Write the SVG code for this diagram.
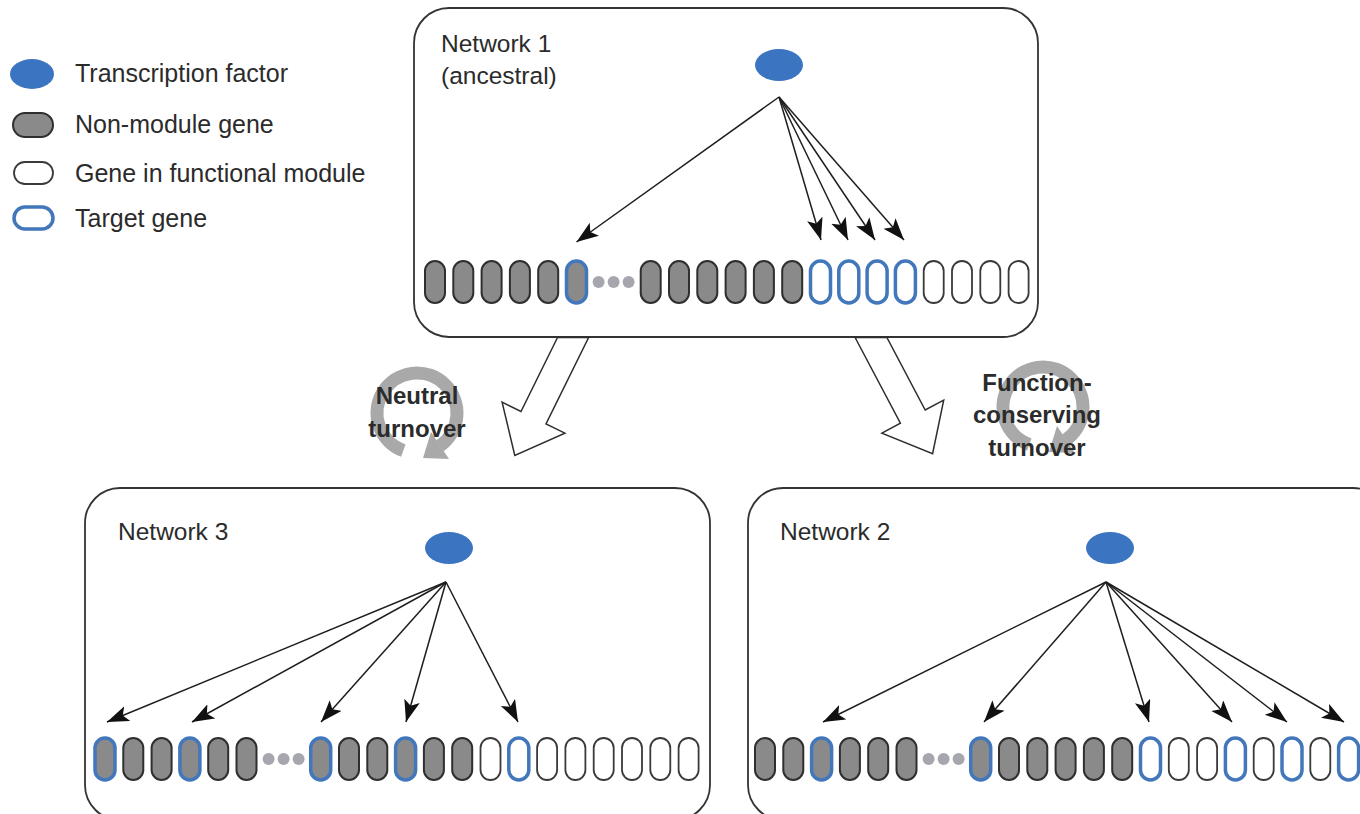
<svg xmlns="http://www.w3.org/2000/svg" width="1360" height="814" viewBox="0 0 1360 814">
<style>
text{font-family:"Liberation Sans",Arial,sans-serif;fill:#2b2b2b}
.lg{font-size:25px}
.nl{font-size:24.5px}
.bl{font-size:24px;font-weight:bold;text-anchor:middle}
.box{fill:#fff;stroke:#333;stroke-width:1.8}
.tf{fill:#3b74c0}
.g{fill:#8a8a8a;stroke:#2f2f2f;stroke-width:2}
.m{fill:#fff;stroke:#3a3a3a;stroke-width:1.8}
.tg{fill:#8a8a8a;stroke:#4277bb;stroke-width:3.5}
.tm{fill:#fff;stroke:#4277bb;stroke-width:3.5}
.dot{fill:#a6a6ae}
.fan{stroke:#1e1e1e;stroke-width:1.5;fill:none;marker-end:url(#ah)}
.hollow{fill:#fff;stroke:#2e2e2e;stroke-width:1.5;stroke-linejoin:miter}
.ring{fill:none;stroke:#a9a9a9;stroke-width:13}
.ringhead{fill:#a9a9a9}
</style>
<defs>
<marker id="ah" markerUnits="userSpaceOnUse" markerWidth="24" markerHeight="18" refX="22" refY="8" orient="auto">
<path d="M0,0 L22,8 L0,16 L5,8 Z" fill="#111"/>
</marker>
</defs>
<rect width="1360" height="814" fill="#fff"/>

<g id="legend">
<ellipse class="tf" cx="32" cy="74" rx="22" ry="15"/>
<rect class="g" x="13" y="113" width="40" height="24" rx="12"/>
<rect class="m" x="14" y="162" width="39" height="22" rx="11"/>
<rect class="tm" x="14" y="207" width="39" height="22" rx="11"/>
<text class="lg" x="75" y="82">Transcription factor</text>
<text class="lg" x="75" y="133">Non-module gene</text>
<text class="lg" x="75" y="182">Gene in functional module</text>
<text class="lg" x="75" y="227">Target gene</text>
</g>

<g id="network1">
<rect class="box" x="414" y="8" width="624" height="329" rx="35"/>
<text class="nl" x="441" y="52">Network 1</text>
<text class="nl" x="441" y="84">(ancestral)</text>
<ellipse class="tf" cx="779" cy="65" rx="24" ry="16"/>
<g transform="translate(0,261)">
<rect class="g" x="425" width="20" height="42" rx="10"/>
<rect class="g" x="453.3" width="20" height="42" rx="10"/>
<rect class="g" x="481.6" width="20" height="42" rx="10"/>
<rect class="g" x="509.9" width="20" height="42" rx="10"/>
<rect class="g" x="538.2" width="20" height="42" rx="10"/>
<rect class="tg" x="566.5" width="20" height="42" rx="10"/>
<circle class="dot" cx="598.6" cy="21" r="6"/>
<circle class="dot" cx="613.6" cy="21" r="6"/>
<circle class="dot" cx="628.6" cy="21" r="6"/>
<rect class="g" x="640.7" width="20" height="42" rx="10"/>
<rect class="g" x="669" width="20" height="42" rx="10"/>
<rect class="g" x="697.3" width="20" height="42" rx="10"/>
<rect class="g" x="725.6" width="20" height="42" rx="10"/>
<rect class="g" x="753.9" width="20" height="42" rx="10"/>
<rect class="g" x="782.2" width="20" height="42" rx="10"/>
<rect class="tm" x="810.5" width="20" height="42" rx="10"/>
<rect class="tm" x="838.8" width="20" height="42" rx="10"/>
<rect class="tm" x="867.1" width="20" height="42" rx="10"/>
<rect class="tm" x="895.4" width="20" height="42" rx="10"/>
<rect class="m" x="923.7" width="20" height="42" rx="10"/>
<rect class="m" x="952" width="20" height="42" rx="10"/>
<rect class="m" x="980.3" width="20" height="42" rx="10"/>
<rect class="m" x="1008.6" width="20" height="42" rx="10"/>
</g>
</g>

<g id="network3">
<rect class="box" x="85" y="488" width="625" height="332" rx="35"/>
<text class="nl" x="118" y="540">Network 3</text>
<ellipse class="tf" cx="449" cy="548" rx="24" ry="16"/>
<g transform="translate(0,738)">
<rect class="tg" x="95" width="20" height="42" rx="10"/>
<rect class="g" x="123.3" width="20" height="42" rx="10"/>
<rect class="g" x="151.6" width="20" height="42" rx="10"/>
<rect class="tg" x="179.9" width="20" height="42" rx="10"/>
<rect class="g" x="208.2" width="20" height="42" rx="10"/>
<rect class="g" x="236.5" width="20" height="42" rx="10"/>
<circle class="dot" cx="268.6" cy="21" r="6"/>
<circle class="dot" cx="283.6" cy="21" r="6"/>
<circle class="dot" cx="298.6" cy="21" r="6"/>
<rect class="tg" x="310.7" width="20" height="42" rx="10"/>
<rect class="g" x="339" width="20" height="42" rx="10"/>
<rect class="g" x="367.3" width="20" height="42" rx="10"/>
<rect class="tg" x="395.6" width="20" height="42" rx="10"/>
<rect class="g" x="423.9" width="20" height="42" rx="10"/>
<rect class="g" x="452.2" width="20" height="42" rx="10"/>
<rect class="m" x="480.5" width="20" height="42" rx="10"/>
<rect class="tm" x="508.8" width="20" height="42" rx="10"/>
<rect class="m" x="537.1" width="20" height="42" rx="10"/>
<rect class="m" x="565.4" width="20" height="42" rx="10"/>
<rect class="m" x="593.7" width="20" height="42" rx="10"/>
<rect class="m" x="622" width="20" height="42" rx="10"/>
<rect class="m" x="650.3" width="20" height="42" rx="10"/>
<rect class="m" x="678.6" width="20" height="42" rx="10"/>
</g>
</g>

<g id="network2">
<rect class="box" x="748" y="488" width="640" height="332" rx="35"/>
<text class="nl" x="780" y="540">Network 2</text>
<ellipse class="tf" cx="1110" cy="548" rx="24" ry="16"/>
<g transform="translate(0,738)">
<rect class="g" x="755" width="20" height="42" rx="10"/>
<rect class="g" x="783.3" width="20" height="42" rx="10"/>
<rect class="tg" x="811.6" width="20" height="42" rx="10"/>
<rect class="g" x="839.9" width="20" height="42" rx="10"/>
<rect class="g" x="868.2" width="20" height="42" rx="10"/>
<rect class="g" x="896.5" width="20" height="42" rx="10"/>
<circle class="dot" cx="928.6" cy="21" r="6"/>
<circle class="dot" cx="943.6" cy="21" r="6"/>
<circle class="dot" cx="958.6" cy="21" r="6"/>
<rect class="tg" x="970.7" width="20" height="42" rx="10"/>
<rect class="g" x="999" width="20" height="42" rx="10"/>
<rect class="g" x="1027.3" width="20" height="42" rx="10"/>
<rect class="g" x="1055.6" width="20" height="42" rx="10"/>
<rect class="g" x="1083.9" width="20" height="42" rx="10"/>
<rect class="g" x="1112.2" width="20" height="42" rx="10"/>
<rect class="tm" x="1140.5" width="20" height="42" rx="10"/>
<rect class="m" x="1168.8" width="20" height="42" rx="10"/>
<rect class="m" x="1197.1" width="20" height="42" rx="10"/>
<rect class="tm" x="1225.4" width="20" height="42" rx="10"/>
<rect class="m" x="1253.7" width="20" height="42" rx="10"/>
<rect class="tm" x="1282" width="20" height="42" rx="10"/>
<rect class="m" x="1310.3" width="20" height="42" rx="10"/>
<rect class="tm" x="1338.6" width="20" height="42" rx="10"/>
</g>
</g>

<g id="neutral-turnover">
<path class="ring" d="M403.3,450.6 A40,40 0 1 1 439.9,445.8"/>
<polygon class="ringhead" points="449,459 431,432 423,458"/>
<text class="bl" x="417" y="404">Neutral</text>
<text class="bl" x="417" y="437">turnover</text>
</g>

<g id="function-conserving-turnover">
<path class="ring" d="M1029.3,444.6 A40,40 0 1 1 1065.9,439.8"/>
<polygon class="ringhead" points="1075,453 1057,426 1049,452"/>
<text class="bl" x="1037" y="391">Function-</text>
<text class="bl" x="1037" y="423">conserving</text>
<text class="bl" x="1037" y="456">turnover</text>
</g>

<g id="connectors">
<polygon class="hollow" points="557.5,337.5 521,411.5 502.1,402.2 514.8,455.4 564.9,433.2 546,423.9 588.6,337.5"/>
<polygon class="hollow" points="855.1,337.5 900.4,423.2 881.9,433.1 932.6,453.7 943.7,400.1 925.2,410 886.9,337.5"/>
<line class="fan" x1="779" y1="97" x2="576.5" y2="242"/>
<line class="fan" x1="779" y1="97" x2="821" y2="240"/>
<line class="fan" x1="779" y1="97" x2="848" y2="240"/>
<line class="fan" x1="779" y1="97" x2="875" y2="240"/>
<line class="fan" x1="779" y1="97" x2="904" y2="240"/>
<line class="fan" x1="446" y1="582" x2="107" y2="722"/>
<line class="fan" x1="446" y1="582" x2="192" y2="722"/>
<line class="fan" x1="446" y1="582" x2="321" y2="722"/>
<line class="fan" x1="446" y1="582" x2="406" y2="722"/>
<line class="fan" x1="446" y1="582" x2="518" y2="722"/>
<line class="fan" x1="1106" y1="582" x2="823" y2="722"/>
<line class="fan" x1="1106" y1="582" x2="984" y2="722"/>
<line class="fan" x1="1106" y1="582" x2="1149" y2="722"/>
<line class="fan" x1="1106" y1="582" x2="1232" y2="722"/>
<line class="fan" x1="1106" y1="582" x2="1287" y2="722"/>
<line class="fan" x1="1106" y1="582" x2="1344" y2="722"/>
</g>
</svg>
